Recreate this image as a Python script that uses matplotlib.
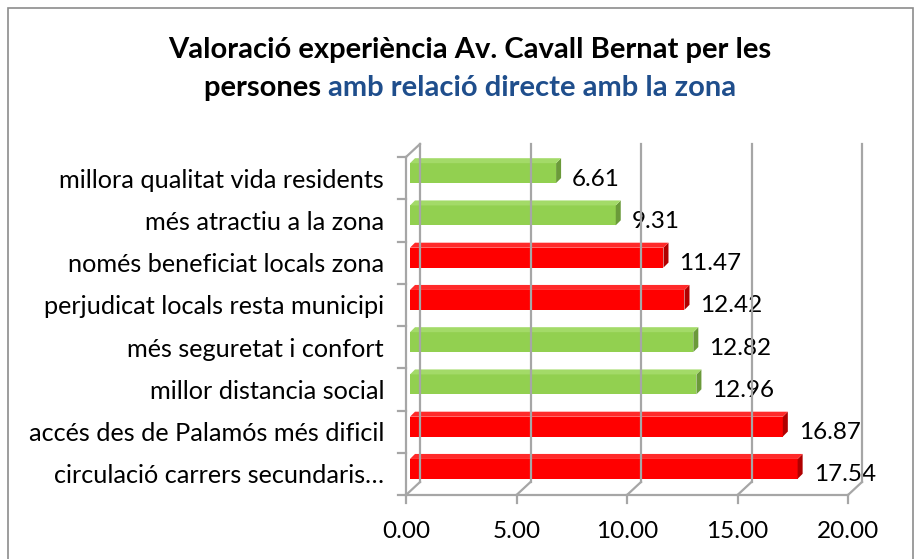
import matplotlib
matplotlib.use("Agg")
import matplotlib.pyplot as plt
import matplotlib.patches as patches
import matplotlib.transforms as mtransforms
from matplotlib.lines import Line2D

# data, top to bottom as shown
categories = [
    "millora qualitat vida residents",
    "més atractiu a la zona",
    "només beneficiat locals zona",
    "perjudicat locals resta municipi",
    "més seguretat i confort",
    "millor distancia social",
    "accés des de Palamós més dificil",
    "circulació carrers secundaris…",
]
values = [6.61, 9.31, 11.47, 12.42, 12.82, 12.96, 16.87, 17.54]
positive = [True, True, False, False, True, True, False, False]
xticks = [0, 5, 10, 15, 20]

plt.rcParams['font.family'] = ['Lato', 'DejaVu Sans']

W, H = 921, 559
fig = plt.figure(figsize=(W / 100, H / 100), dpi=100)
fig.patch.set_facecolor('white')
ident = mtransforms.IdentityTransform()

# chart border
fig.add_artist(patches.Rectangle((8 / W, -0.05), 905 / W, 1.05 - 8 / H,
                                 transform=fig.transFigure, fill=False,
                                 edgecolor='#8c8c8c', lw=1.2))

# front plane of the plot
x0, x1, yb, yt = 406, 848, 495, 157
ax = fig.add_axes([x0 / W, 1 - yb / H, (x1 - x0) / W, (yb - yt) / H])
ax.set_xlim(0, 20)
n = len(categories)
ax.set_ylim(0, n)
ax.axis('off')

grid = '#a6a6a6'
DX, DY = 14, 13   # depth of the back wall in pixels


def px(x, y):
    return ax.transData.transform((x, y))


def seg(p, q, **kw):
    fig.add_artist(Line2D([p[0], q[0]], [p[1], q[1]], transform=ident,
                          color=grid, lw=1.6, **kw))


def shifted(dx, dy):
    return ax.transData + mtransforms.ScaledTranslation(dx / 100, dy / 100, fig.dpi_scale_trans)


# back wall gridlines and floor diagonals
for t in xticks:
    a, b = px(t, 0), px(t, n)
    seg((a[0] + DX, a[1] + DY), (b[0] + DX, b[1] + DY))
    seg(a, (a[0] + DX, a[1] + DY))
# top-left corner diagonal
c = px(0, n)
seg(c, (c[0] + DX, c[1] + DY))

# front axes
seg(px(0, 0), px(0, n))
seg(px(0, 0), px(20, 0))
for i in range(n + 1):
    p = px(0, i)
    seg((p[0] - 8, p[1]), p)
for t in xticks:
    p = px(t, 0)
    seg(p, (p[0], p[1] - 8))
    ax.text(t, 0, f"{t:.2f}", transform=shifted(0, -36),
            ha='center', va='center', fontsize=17.5)

# bars with a little depth
bar_h = 0.47
BX, BY = 4, 5
dd = 5
for i, (cat, v, pos) in enumerate(zip(categories, values, positive)):
    yc = n - 1 - i + 0.5
    y = yc - bar_h / 2
    face = '#92d050' if pos else '#ff0000'
    side = '#6b9a3a' if pos else '#b00000'
    topc = '#a3da68' if pos else '#ff2a2a'
    ax.add_patch(patches.Rectangle((0, y), v, bar_h, facecolor=face,
                                   edgecolor='none', transform=shifted(BX, BY),
                                   clip_on=False))
    lo, hi, z = px(v, y), px(v, y + bar_h), px(0, y + bar_h)
    side_pts = [(lo[0] + BX, lo[1] + BY), (lo[0] + BX + dd, lo[1] + BY + dd),
                (hi[0] + BX + dd, hi[1] + BY + dd), (hi[0] + BX, hi[1] + BY)]
    top_pts = [(hi[0] + BX, hi[1] + BY), (hi[0] + BX + dd, hi[1] + BY + dd),
               (z[0] + BX + dd, z[1] + BY + dd), (z[0] + BX, z[1] + BY)]
    fig.add_artist(patches.Polygon(side_pts, closed=True, facecolor=side,
                                   edgecolor='none', transform=ident))
    fig.add_artist(patches.Polygon(top_pts, closed=True, facecolor=topc,
                                   edgecolor='none', transform=ident))
    ax.text(v, yc, f"{v:.2f}", transform=shifted(20, -1),
            ha='left', va='center', fontsize=17.5)
    ax.text(0, yc, cat, transform=shifted(-22, -2),
            ha='right', va='center', fontsize=18.2)

# title, second line partly coloured
fs_t = 21
fig.text(470 / W, 1 - 50 / H, "Valoració experiència Av. Cavall Bernat per les",
         ha='center', va='center', fontsize=fs_t, fontweight='bold')
part1 = "persones "
part2 = "amb relació directe amb la zona"
r = fig.canvas.get_renderer()
t1 = fig.text(0, 0, part1, fontsize=fs_t, fontweight='bold')
t2 = fig.text(0, 0, part2, fontsize=fs_t, fontweight='bold', color='#1f4e8c')
w1 = t1.get_window_extent(r).width
w2 = t2.get_window_extent(r).width
start = 470 - (w1 + w2) / 2
t1.set_position((start / W, 1 - 88 / H))
t2.set_position(((start + w1) / W, 1 - 88 / H))
t1.set_va('center')
t2.set_va('center')

fig.savefig("out.png", dpi=100, facecolor='white')
